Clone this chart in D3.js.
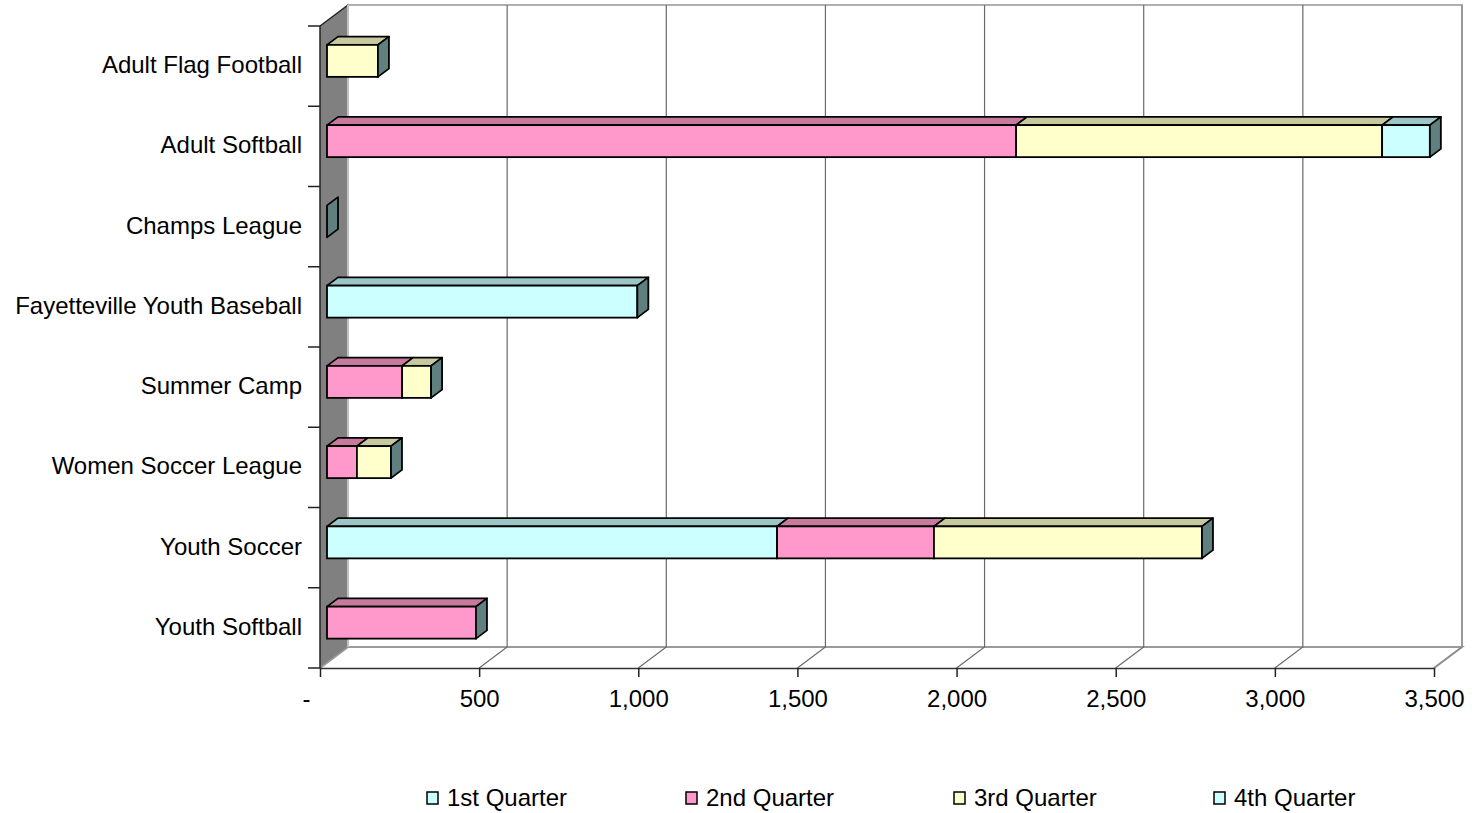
<!DOCTYPE html>
<html>
<head>
<meta charset="utf-8">
<script src="https://cdn.jsdelivr.net/npm/d3@7"></script>
<style>
  html, body { margin: 0; padding: 0; background: #fff; }
  svg { display: block; font-family: "Liberation Sans", Arial, sans-serif; }
</style>
</head>
<body>
<svg id="chart" width="1472" height="813"></svg>
<script>
// ---- data ----
const categories = ["Adult Flag Football", "Adult Softball", "Champs League", "Fayetteville Youth Baseball",
                    "Summer Camp", "Women Soccer League", "Youth Soccer", "Youth Softball"];
const seriesNames = ["1st Quarter", "2nd Quarter", "3rd Quarter", "4th Quarter"];
const q1 = [0, 0, 0, 975, 0, 0, 1414, 0];
const q2 = [0, 2165, 0, 0, 236, 94, 493, 468];
const q3 = [160, 1150, 0, 0, 91, 107, 842, 0];
const q4 = [0, 150, 0, 0, 0, 0, 0, 0];
const tickValues = [0, 500, 1000, 1500, 2000, 2500, 3000, 3500];
const tickLabels = ["-", "500", "1,000", "1,500", "2,000", "2,500", "3,000", "3,500"];

const seriesValues = [q1, q2, q3, q4];
const frontColors = ["#CCFFFF", "#FF99CC", "#FFFFCC", "#CCFFFF"];
const topColors   = ["#9CC6C6", "#C77A9E", "#C8C89E", "#9CC6C6"];
const sideColor = "#607F7F";

// ---- geometry ----
const svg = d3.select("#chart");
const x = d3.scaleLinear().domain([0, 3500]).range([320, 1434]);
const y = d3.scaleBand().domain(categories).range([26, 668]).paddingInner(0).paddingOuter(0);
const DX = 28, DY = -21;              // full depth of the plot box
const bF = {dx: 7, dy: -5.25};         // bar front depth offset
const bD = {dx: 11, dy: -8.25};        // bar depth
const barH = 32;

const yTop = 26, yBot = 668;

// back wall border
svg.append("path")
  .attr("d", `M${x(0)+DX},${yBot+DY} L${x(0)+DX},${yTop+DY} L${x(3500)+DX},${yTop+DY} L${x(3500)+DX},${yBot+DY}`)
  .attr("fill", "none").attr("stroke", "#b0b0b0").attr("stroke-width", 2);

// floor
svg.append("path")
  .attr("d", `M${x(0)},${yBot} L${x(0)+DX},${yBot+DY} L${x(3500)+DX},${yBot+DY} L${x(3500)},${yBot}`)
  .attr("fill", "#fff").attr("stroke", "#9a9a9a").attr("stroke-width", 2);

// gridlines (back wall + floor)
svg.append("g").selectAll("path").data(tickValues.filter(v => v > 0)).join("path")
  .attr("d", v => `M${x(v)+DX},${yTop+DY} L${x(v)+DX},${yBot+DY} L${x(v)},${yBot}`)
  .attr("fill", "none").attr("stroke", d => d === 3500 ? "#8a8a8a" : "#6a6a6a").attr("stroke-width", 1.2);

// left side wall
svg.append("path")
  .attr("d", `M${x(0)},${yTop} L${x(0)+DX},${yTop+DY} L${x(0)+DX},${yBot+DY} L${x(0)},${yBot} Z`)
  .attr("fill", "#808080").attr("stroke", "none");
svg.append("path")
  .attr("d", `M${x(0)},${yTop} L${x(0)+DX},${yTop+DY}`)
  .attr("stroke", "#222").attr("stroke-width", 1.5);
svg.append("path")
  .attr("d", `M${x(0)+DX},${yTop+DY} L${x(0)+DX},${yBot+DY}`)
  .attr("stroke", "#c0c0c0").attr("stroke-width", 2);
svg.append("path")
  .attr("d", `M${x(0)},${yBot} L${x(0)+DX},${yBot+DY}`)
  .attr("stroke", "#9a9a9a").attr("stroke-width", 1.5);

// bars
const barsG = svg.append("g");
categories.forEach((cat, i) => {
  const cy = y(cat) + y.bandwidth() / 2 + bF.dy;
  const y0 = cy - barH / 2, y1 = cy + barH / 2;
  let cum = 0;
  seriesValues.forEach((vals, s) => {
    const v = vals[i];
    if (!v) return;
    const xa = x(cum) + bF.dx, xb = x(cum + v) + bF.dx;
    cum += v;
    const g = barsG.append("g");
    // top face
    g.append("path")
      .attr("d", `M${xa},${y0} L${xa+bD.dx},${y0+bD.dy} L${xb+bD.dx},${y0+bD.dy} L${xb},${y0} Z`)
      .attr("fill", topColors[s]).attr("stroke", "#000").attr("stroke-width", 1.8).attr("stroke-linejoin", "round");
    // front face
    g.append("rect")
      .attr("x", xa).attr("y", y0).attr("width", xb - xa).attr("height", barH)
      .attr("fill", frontColors[s]).attr("stroke", "#000").attr("stroke-width", 1.8);
  });
  // end (side) face at the total
  const xe = x(cum) + bF.dx;
  barsG.append("path")
    .attr("d", `M${xe},${y0} L${xe+bD.dx},${y0+bD.dy} L${xe+bD.dx},${y1+bD.dy} L${xe},${y1} Z`)
    .attr("fill", sideColor).attr("stroke", "#000").attr("stroke-width", 1.8).attr("stroke-linejoin", "round");
});

// left (category) axis
const yAxisG = svg.append("g");
yAxisG.append("line").attr("x1", x(0)).attr("x2", x(0)).attr("y1", yTop).attr("y2", yBot)
  .attr("stroke", "#222").attr("stroke-width", 1.5);
const bounds = categories.map(c => y(c)).concat([yBot]);
yAxisG.selectAll("line.tk").data(bounds).join("line").attr("class", "tk")
  .attr("x1", x(0) - 12).attr("x2", x(0)).attr("y1", d => d).attr("y2", d => d)
  .attr("stroke", "#222").attr("stroke-width", 1.5);
yAxisG.selectAll("text").data(categories).join("text")
  .attr("x", 302).attr("y", d => y(d) + y.bandwidth() / 2 + 7)
  .attr("text-anchor", "end").attr("font-size", 24).attr("fill", "#000")
  .text(d => d);

// bottom (value) axis
const xAxis = d3.axisBottom(x).tickValues(tickValues).tickSize(9).tickSizeOuter(0)
  .tickFormat((d, i) => tickLabels[i]);
const xAxisG = svg.append("g").attr("transform", `translate(0,${yBot})`).call(xAxis);
xAxisG.select(".domain").attr("stroke", "#333").attr("stroke-width", 1.5);
xAxisG.selectAll(".tick line").attr("stroke", "#222").attr("stroke-width", 1.5);
xAxisG.selectAll(".tick text").attr("font-size", 24).attr("font-family", "Liberation Sans, Arial, sans-serif")
  .attr("fill", "#000").attr("y", 22).attr("dy", "0.71em");
xAxisG.selectAll(".tick text").filter((d, i) => i === 0).attr("dx", -14);

// legend
const legendX = [427, 686, 954, 1214];
const legend = svg.append("g");
seriesNames.forEach((name, s) => {
  legend.append("rect").attr("x", legendX[s]).attr("y", 792).attr("width", 11).attr("height", 12)
    .attr("fill", frontColors[s]).attr("stroke", "#000").attr("stroke-width", 1.5);
  legend.append("text").attr("x", legendX[s] + 20).attr("y", 806)
    .attr("font-size", 24).attr("fill", "#000").text(name);
});
</script>
</body>
</html>
